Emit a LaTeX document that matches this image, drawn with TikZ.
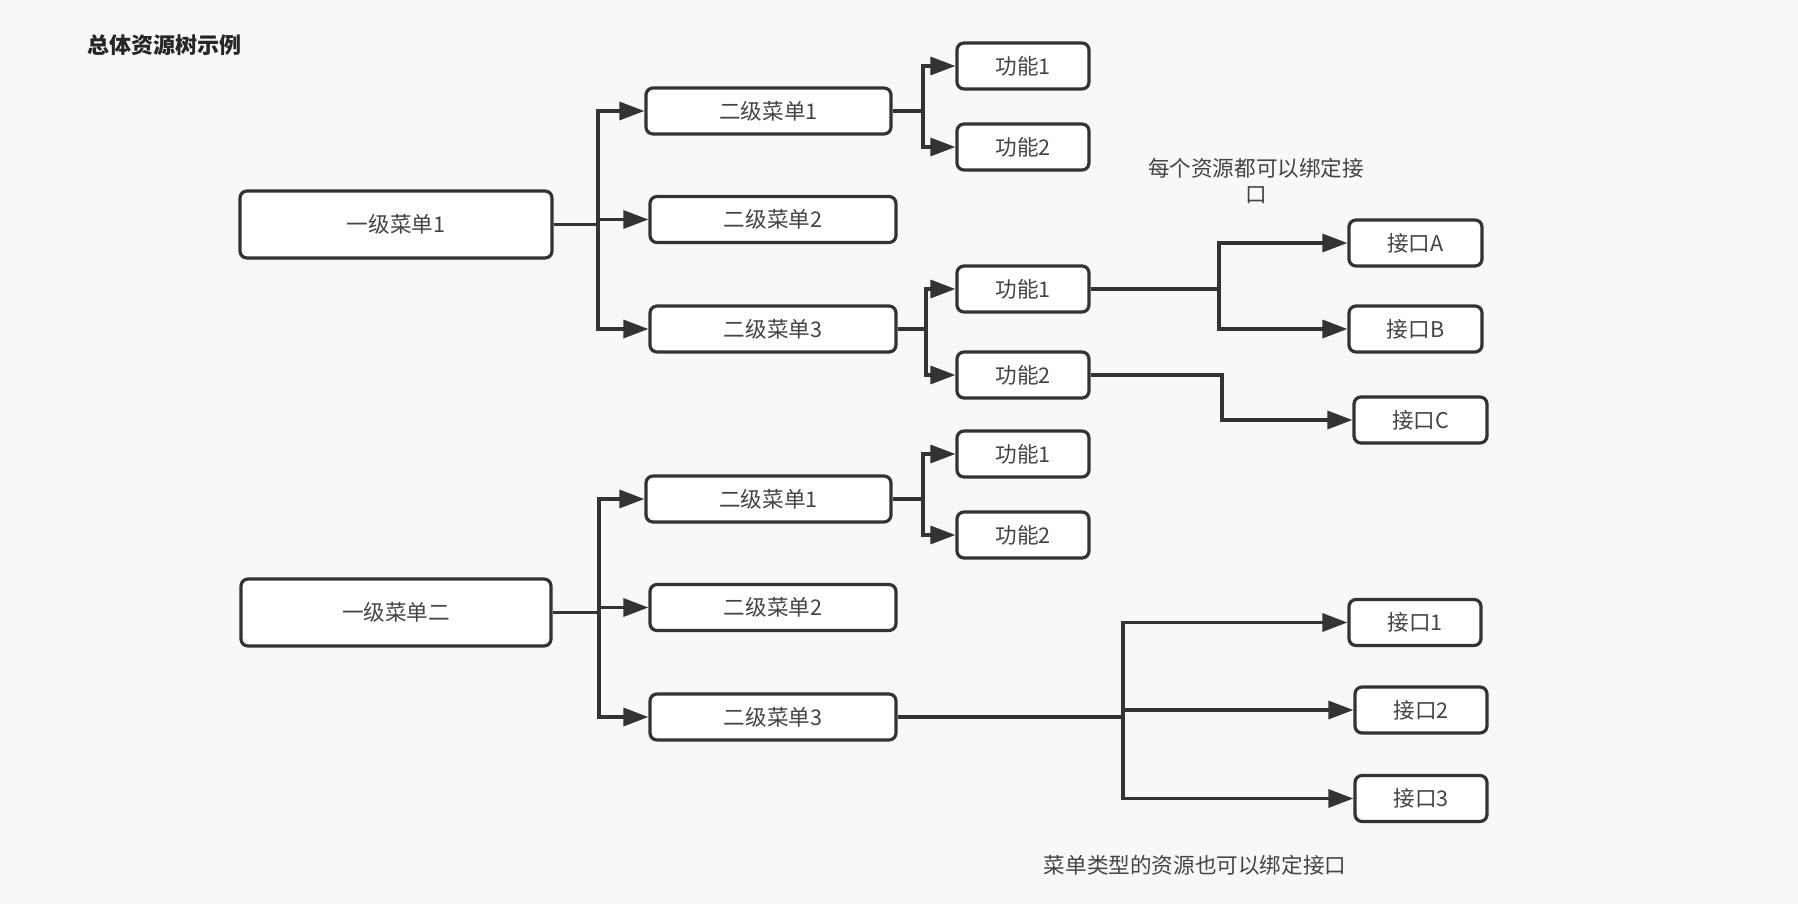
\documentclass[tikz,border=0pt]{standalone}
\usepackage{fontspec}
\setmainfont{Noto Sans CJK SC}
\usetikzlibrary{arrows.meta}
\definecolor{bg}{HTML}{F8F8F8}
\definecolor{ln}{HTML}{333333}
\definecolor{tx}{HTML}{444444}
\begin{document}
\begin{tikzpicture}[x=0.5pt,y=-0.5pt,
  box/.style={draw=ln,line width=1.6pt,rounded corners=3.5pt,fill=white,inner sep=0pt,
    text=tx,font=\fontsize{10.8pt}{13pt}\selectfont},
  arr/.style={draw=ln,line width=1.6pt,-{Triangle[length=12.5pt,width=9pt]}},
  note/.style={text=tx,font=\fontsize{10.8pt}{13pt}\selectfont,align=center,inner sep=0pt}]
\fill[bg] (0,0) rectangle (1798,904);
\useasboundingbox (0,0) rectangle (1798,904);
% title
\node[inner sep=0pt,text=black!85,font=\fontsize{11pt}{13pt}\selectfont\bfseries] (title) at (164,45) {总体资源树示例};
% first group
\node[box,minimum width=156pt,minimum height=33.5pt] (L1a) at (396,224.5) {一级菜单1};
\node[box,minimum width=122.5pt,minimum height=23pt] (a1) at (768.5,111) {二级菜单1};
\node[box,minimum width=123pt,minimum height=23pt] (a2) at (773,219.5) {二级菜单2};
\node[box,minimum width=123pt,minimum height=23pt] (a3) at (773,329) {二级菜单3};
\node[box,minimum width=66pt,minimum height=23pt] (f1) at (1023,66) {功能1};
\node[box,minimum width=66pt,minimum height=23pt] (f2) at (1023,147) {功能2};
\node[box,minimum width=66pt,minimum height=23pt] (f3) at (1023,289) {功能1};
\node[box,minimum width=66pt,minimum height=23pt] (f4) at (1023,375) {功能2};
\node[box,minimum width=66.5pt,minimum height=23pt] (iA) at (1415.5,243) {接口A};
\node[box,minimum width=66.5pt,minimum height=23pt] (iB) at (1415.5,329) {接口B};
\node[box,minimum width=66.5pt,minimum height=23pt] (iC) at (1420.5,420) {接口C};
% second group
\node[box,minimum width=155pt,minimum height=33.5pt] (L1b) at (396,612.5) {一级菜单二};
\node[box,minimum width=122.5pt,minimum height=23pt] (b1) at (768.5,499) {二级菜单1};
\node[box,minimum width=123pt,minimum height=23pt] (b2) at (773,607.5) {二级菜单2};
\node[box,minimum width=123pt,minimum height=23pt] (b3) at (773,717) {二级菜单3};
\node[box,minimum width=66pt,minimum height=23pt] (f5) at (1023,454) {功能1};
\node[box,minimum width=66pt,minimum height=23pt] (f6) at (1023,535) {功能2};
\node[box,minimum width=66pt,minimum height=23pt] (i1) at (1415,622.5) {接口1};
\node[box,minimum width=66pt,minimum height=23pt] (i2) at (1421,710) {接口2};
\node[box,minimum width=66pt,minimum height=23pt] (i3) at (1421,798.5) {接口3};
% notes
\node[note] (n1) at (1256,181) {每个资源都可以绑定接\\口};
\node[note] (n2) at (1195,865) {菜单类型的资源也可以绑定接口};
% junction coordinates
\coordinate (ta) at (598,224.5);
\coordinate (ja1) at (923,111);
\coordinate (ja3) at (926,329);
\coordinate (jf3) at (1219,289);
\coordinate (jf4) at (1222,375);
\coordinate (tb) at (599,612.5);
\coordinate (jb1) at (923,499);
\coordinate (jb3) at (1123,717);
% connectors group 1
\draw[arr] (L1a.east) -- (ta) |- (a1.west);
\draw[arr] (L1a.east) -- (ta) |- (a2.west);
\draw[arr] (L1a.east) -- (ta) |- (a3.west);
\draw[arr] (a1.east) -- (ja1) |- (f1.west);
\draw[arr] (a1.east) -- (ja1) |- (f2.west);
\draw[arr] (a3.east) -- (ja3) |- (f3.west);
\draw[arr] (a3.east) -- (ja3) |- (f4.west);
\draw[arr] (f3.east) -- (jf3) |- (iA.west);
\draw[arr] (f3.east) -- (jf3) |- (iB.west);
\draw[arr] (f4.east) -- (jf4) |- (iC.west);
% connectors group 2
\draw[arr] (L1b.east) -- (tb) |- (b1.west);
\draw[arr] (L1b.east) -- (tb) |- (b2.west);
\draw[arr] (L1b.east) -- (tb) |- (b3.west);
\draw[arr] (b1.east) -- (jb1) |- (f5.west);
\draw[arr] (b1.east) -- (jb1) |- (f6.west);
\draw[arr] (b3.east) -- (jb3) |- (i1.west);
\draw[arr] (b3.east) -- (jb3) |- (i2.west);
\draw[arr] (b3.east) -- (jb3) |- (i3.west);
\end{tikzpicture}
\end{document}
